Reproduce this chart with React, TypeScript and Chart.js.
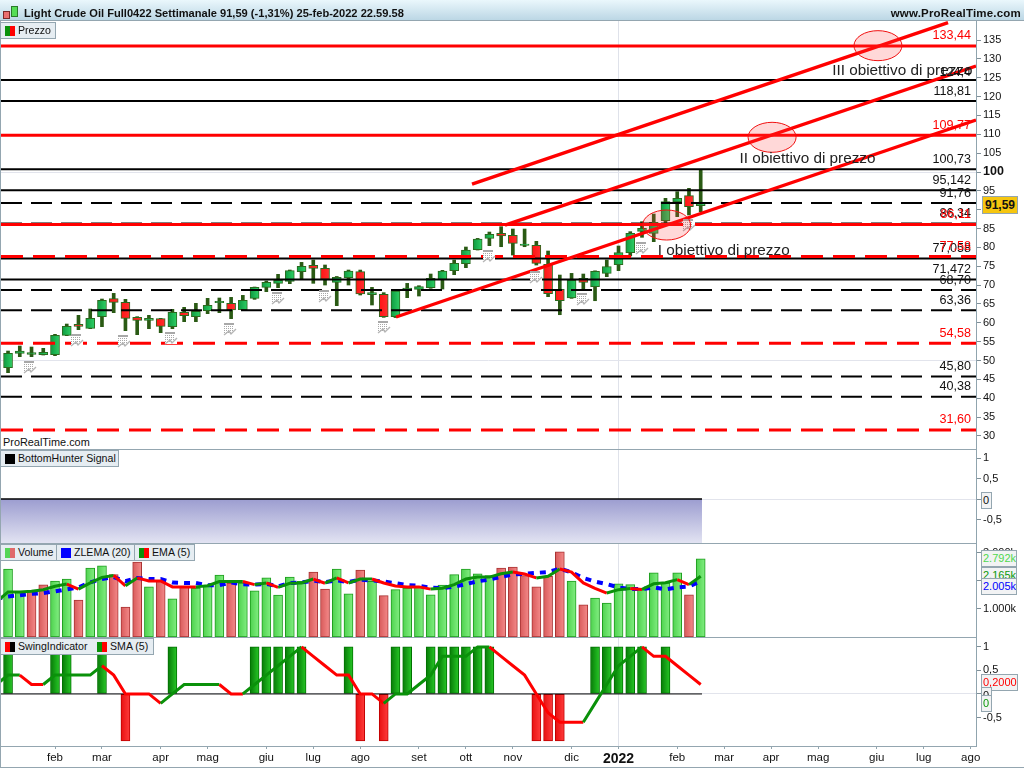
import React, { useEffect, useRef } from "react";
import { Chart, registerables } from "chart.js";

Chart.register(...registerables);

// ---------- data ----------
const WEEK_OPENS = [48.11,51.91,51.65,51.56,51.56,56.69,59.6,58.54,61.64,66.41,65.44,61.46,60.66,61.11,58.98,62.78,61.64,63.23,65.35,65.17,63.49,66.5,69.41,70.48,71.01,73.57,75.25,74.45,70.74,71.97,73.57,67.47,67.55,61.63,68.7,68.88,69.32,71.53,73.83,75.69,79.4,82.4,83.73,83.2,80.55,80.55,75.51,68.88,66.58,71.8,69.59,73.13,75.43,78.61,84.27,83.74,87.1,92.05,93.72,91.07];
const WEEK_CLOSES = [51.91,52.53,52.09,52.18,56.69,59.07,59.07,61.19,65.97,65.44,61.19,60.66,61.19,59.07,62.78,61.9,63.05,64.64,65.7,63.4,65.97,69.41,70.74,71.27,73.83,74.98,74.45,71.54,72.07,73.74,67.64,68,61.63,68.44,69.23,69.59,71.8,73.74,75.78,79.31,82.23,83.47,83.02,81.08,80.9,75.78,67.73,65.87,71.27,70.74,73.65,74.9,78.61,83.74,85.06,86.65,92.13,93.02,90.81,91.59];
const WEEK_HIGHS = [52.53,53.86,53.59,53.24,56.95,59.69,61.99,63.67,66.32,67.82,66.23,61.64,61.99,61.19,63.58,64.11,65.17,66.5,66.59,66.76,67.29,69.5,71.09,72.86,74.01,76.04,76.66,75.34,72.3,74.01,74,69.41,68,68.7,70.47,69.85,72.95,73.92,76.66,80.11,82.4,84.08,85.5,84.88,84.88,81.61,79.05,72.68,73.12,72.95,73.8,76.66,80.38,84.18,86.83,88.86,93.02,94.79,95.67,100.71];
const WEEK_LOWS = [46.79,51.03,51.03,51.47,51.29,56.6,58.19,58.45,58.98,62.7,57.92,56.86,58.45,57.39,58.45,60.31,60.31,62.43,62.7,61.11,63.23,66.23,68.27,69.33,70.39,71.54,70.48,70.03,64.55,70.03,67.38,64.73,61.46,61.4,66.67,67.11,69.15,68.97,72.77,74.63,79.31,80.46,80.19,77.98,80.19,75.33,66.94,62.16,66.49,68.7,65.87,72.24,73.84,77.73,82.68,81.53,86.39,88.16,88.6,89.48];

const VOLUMES = [2.43,1.63,1.67,1.86,2.0,2.07,1.32,2.46,2.54,2.23,1.07,2.68,1.79,1.99,1.36,1.81,1.75,1.81,2.21,1.93,1.93,1.65,2.11,1.5,2.14,1.99,2.32,1.71,2.43,1.54,2.39,1.99,1.48,1.69,1.75,1.81,1.51,1.85,2.23,2.43,2.26,2.19,2.46,2.5,2.19,1.79,2.17,3.04,2.0,1.15,1.39,1.21,1.9,1.87,1.69,2.29,1.93,2.29,1.51,2.79];
const VOLUME_DOWN_WEEKS = [2,3,6,9,10,11,13,15,19,26,27,30,32,42,43,44,45,46,47,49,58];
// the two line series begin one week before the first bar
const EMA_VOLUME = [1.25,1.61,1.61,1.63,1.69,1.81,1.89,1.71,1.93,2.13,2.20,1.83,2.11,2.00,2.00,1.79,1.79,1.79,1.83,1.98,1.98,1.98,1.87,1.93,1.77,1.92,1.93,2.07,1.92,2.11,1.93,2.07,2.07,1.93,1.82,1.79,1.79,1.71,1.74,1.87,2.07,2.14,2.14,2.26,2.32,2.25,2.11,2.17,2.43,2.32,1.93,1.74,1.57,1.69,1.73,1.70,1.90,1.94,2.05,1.87,2.17];
const ZLEMA_VOLUME = [1.36,1.45,1.49,1.54,1.57,1.63,1.70,1.77,1.95,2.07,2.14,1.99,2.11,2.07,2.07,1.95,1.93,1.93,1.85,1.85,1.95,1.88,1.87,1.90,1.81,1.93,1.95,2.01,1.96,2.02,1.96,2.05,2.02,1.98,1.92,1.85,1.83,1.76,1.75,1.80,1.89,1.99,2.05,2.15,2.23,2.26,2.29,2.32,2.44,2.31,2.11,1.98,1.89,1.77,1.71,1.71,1.77,1.70,1.77,1.80,2.0];

const SWING_SIGNAL = [1,0,0,0,1,1,0,0,1,0,-1,0,0,0,1,0,0,0,0,0,0,1,1,1,1,1,0,0,0,1,-1,0,-1,1,1,0,1,1,1,1,1,1,0,0,0,-1,-1,-1,0,0,1,1,1,1,1,0,1,0,0,0];
const SWING_SMA = [0.2,0.4,0.4,0.2,0.2,0.4,0.4,0.4,0.4,0.6,0.4,0,0,0,-0.2,0,0.2,0.2,0.2,0.2,0,0,0.2,0.4,0.6,0.8,1,0.8,0.6,0.4,0.4,0,0,-0.2,0,0,0.2,0.4,0.8,0.8,0.8,1,1,0.8,0.6,0.4,0,-0.4,-0.6,-0.6,-0.6,-0.2,0.2,0.6,0.8,1,0.8,0.8,0.6,0.4,0.2];

const SOLID_BLACK_LEVELS = [124.4, 118.81, 100.73, 95.142, 77.05, 71.472];
const DASHED_BLACK_LEVELS = [91.76, 86.34, 68.7, 63.36, 45.8, 40.38];
const SOLID_RED_LEVELS = [133.44, 109.77, 86.11];
const DASHED_RED_LEVELS = [77.58, 54.58, 31.6];
const LEVEL_TEXTS: [number, string, string][] = [
  [133.44, "133,44", "#ff0000"], [123.7, "124,4", "#111"], [118.81, "118,81", "#111"], [109.77, "109,77", "#ff0000"],
  [100.73, "100,73", "#111"], [95.142, "95,142", "#111"], [91.76, "91,76", "#111"], [86.34, "86,34", "#111"],
  [86.11, "86,11", "#ff0000"], [77.05, "77,058", "#111"], [77.58, "77,58", "#ff0000"], [71.472, "71,472", "#111"],
  [68.7, "68,70", "#111"], [63.36, "63,36", "#111"], [54.58, "54,58", "#ff0000"], [45.8, "45,80", "#111"],
  [40.38, "40,38", "#111"], [31.6, "31,60", "#ff0000"],
];
const TREND_LOWER = [{ x: 33.05, y: 61.55 }, { x: 82.45, y: 113.79 }];
const TREND_MIDDLE = [{ x: 42.33, y: 85.94 }, { x: 82.45, y: 128.1 }];
const TREND_UPPER = [{ x: 39.52, y: 96.8 }, { x: 80.07, y: 139.6 }];
const TARGET_ZONES = [{ x: 74.1, y: 133.5 }, { x: 65.08, y: 109.2 }, { x: 56.1, y: 85.94 }];
const TARGET_NOTES: [number, number, string][] = [
  [70.2, 126.8, "III obiettivo di prezzo"], [62.3, 103.4, "II obiettivo di prezzo"], [55.35, 79.05, "I obiettivo di prezzo"],
];
const CALENDAR_MARKS = [[1.9,48.3],[5.9,55.4],[9.9,55.2],[13.9,56],[18.9,58.4],[23,66.6],[27,67.1],[32,58.9],[41,77.7],[45,72.2],[49,66.3],[54,79.8],[58,85.9]];

const PRICE_TICKS = [30,35,40,45,50,55,60,65,70,75,80,85,90,95,100,105,110,115,120,125,130,135];
const OSC_TICKS = [1, 0.5, 0, -0.5];
const VOLUME_TICKS = [1, 2, 3];
const MONTH_WEEKS = [4,8,13,17,22,26,30,35,39,43,48,52,57,61,65,69,74,78,82];
const MONTH_LABELS = ["feb","mar","apr","mag","giu","lug","ago","set","ott","nov","dic","2022","feb","mar","apr","mag","giu","lug","ago"];

// ---------- helpers ----------
const FONT = '"Liberation Sans", Arial, sans-serif';
const X_MIN = -0.6, X_MAX = 82.45, LAST_X = 59.11;
const YEAR_WEEK = 52;
const fixedAxisWidth = (s: any) => { s.width = 48; s.paddingTop = 0; s.paddingBottom = 0; };

function xAxis(showLabels: boolean) {
  return {
    type: "linear", min: X_MIN, max: X_MAX, display: true, offset: false,
    afterBuildTicks: (s: any) => { s.ticks = MONTH_WEEKS.map((v) => ({ value: v })); },
    afterFit: (s: any) => { s.height = showLabels ? 21 : 0; s.paddingLeft = 0; s.paddingRight = 0; },
    border: { display: false },
    grid: {
      offset: false,
      color: (c: any) => (c.tick && c.tick.value === YEAR_WEEK ? "#dfe2ea" : "transparent"),
      tickColor: "#90a4ae", tickLength: showLabels ? 3 : 0, drawTicks: showLabels,
    },
    ticks: {
      display: showLabels, autoSkip: false, maxRotation: 0, minRotation: 0, padding: 2, color: "#111",
      font: (c: any) => (c.tick && c.tick.value === YEAR_WEEK ? { family: FONT, size: 14, weight: "bold" } : { family: FONT, size: 11.5 }),
      callback: (v: number) => { const i = MONTH_WEEKS.indexOf(v); return i >= 0 ? MONTH_LABELS[i] : ""; },
    },
  };
}
function yAxis(min: number, max: number, ticks: number[], fmt: (v: number) => string, gridAt: number[], boldAt?: number) {
  return {
    type: "linear", position: "right", min, max,
    afterBuildTicks: (s: any) => { s.ticks = ticks.map((v) => ({ value: v })); },
    afterFit: fixedAxisWidth,
    border: { display: true, color: "#90a4ae", width: 1 },
    grid: {
      color: (c: any) => (c.tick && gridAt.includes(c.tick.value) ? "#e2e4ec" : "transparent"),
      tickColor: "#7f8f98", tickLength: 5,
    },
    ticks: {
      autoSkip: false, padding: 2, color: "#111",
      font: (c: any) => (c.tick && c.tick.value === boldAt ? { family: FONT, size: 12.5, weight: "bold" } : { family: FONT, size: 11 }),
      callback: (v: number) => fmt(v),
    },
  };
}
const comma = (v: number) => String(v).replace(".", ",");
const indexed = (arr: number[], from = 0) => arr.map((y, i) => ({ x: i + from, y }));

function hGrad(c: any, width: number, left: string, right: string, fallback: string) {
  if (!c.raw) return fallback;
  const px = c.chart.scales.x?.getPixelForValue(c.raw.x);
  if (!Number.isFinite(px)) return fallback;
  const g = c.chart.ctx.createLinearGradient(px - width / 2, 0, px + width / 2, 0);
  g.addColorStop(0, left); g.addColorStop(1, right);
  return g;
}
function trendColours(values: number[]) {
  const out: string[] = [];
  let state = "#0a910a";
  for (let i = 1; i < values.length; i++) {
    if (values[i] > values[i - 1]) state = "#0a910a";
    else if (values[i] < values[i - 1]) state = "#ff0000";
    out.push(state);
  }
  return out;
}
function trendLine(values: number[], order: number) {
  const colours = trendColours(values);
  return {
    type: "line", data: indexed(values, -1), pointRadius: 0, borderWidth: 3, tension: 0, order,
    borderColor: "#0a910a", segment: { borderColor: (c: any) => colours[c.p0DataIndex] },
  };
}
function baseOptions(scales: any) {
  return {
    responsive: false, animation: false, maintainAspectRatio: false,
    layout: { padding: { left: 1, right: 0, top: 0, bottom: 0 } },
    plugins: { legend: { display: false }, tooltip: { enabled: false }, title: { display: false } },
    events: [], scales,
  };
}
const ZERO_LINE = [{ x: X_MIN, y: 0 }, { x: LAST_X, y: 0 }];

const priceMarks = {
  id: "priceMarks",
  afterDatasetsDraw(chart: any) {
    const { ctx, scales: { x, y } } = chart;
    ctx.save();
    // calendar marks
    CALENDAR_MARKS.forEach(([wx, wy]) => {
      const px = Math.round(x.getPixelForValue(wx)) - 6, py = Math.round(y.getPixelForValue(wy)) - 6;
      ctx.fillStyle = "#fff"; ctx.fillRect(px, py, 12, 12);
      ctx.fillStyle = "#a8a8a8";
      ctx.fillRect(px, py, 10, 2);
      for (let a = 0; a < 10; a += 2) for (let b = 3; b < 10; b += 2) ctx.fillRect(px + a, py + b, 1, 1);
      ctx.strokeStyle = "#b5b5b5"; ctx.lineWidth = 1.4;
      ctx.beginPath(); ctx.moveTo(px, py + 12); ctx.lineTo(px + 5, py + 8); ctx.lineTo(px + 7, py + 11); ctx.lineTo(px + 12, py + 6); ctx.stroke();
    });
    // target zones
    TARGET_ZONES.forEach((z) => {
      ctx.beginPath();
      ctx.ellipse(x.getPixelForValue(z.x), y.getPixelForValue(z.y), 24, 15, 0, 0, Math.PI * 2);
      ctx.fillStyle = "rgba(255,60,60,0.2)"; ctx.fill();
      ctx.strokeStyle = "#f01010"; ctx.lineWidth = 1; ctx.stroke();
    });
    ctx.textBaseline = "middle";
    ctx.textAlign = "left"; ctx.fillStyle = "#222"; ctx.font = `15.3px ${FONT}`;
    TARGET_NOTES.forEach(([wx, wy, t]) => ctx.fillText(t, x.getPixelForValue(wx), y.getPixelForValue(wy)));
    ctx.textAlign = "right"; ctx.font = `12.6px ${FONT}`;
    LEVEL_TEXTS.forEach(([v, t, c]) => { ctx.fillStyle = c; ctx.fillText(t, 971, y.getPixelForValue(v) - 10); });
    ctx.restore();
  },
};

function useCharts(make: (els: HTMLCanvasElement[]) => Chart[]) {
  const refs = useRef<(HTMLCanvasElement | null)[]>([]);
  useEffect(() => {
    document.body.style.margin = "0";
    document.body.style.overflow = "hidden";
    const charts = make(refs.current as HTMLCanvasElement[]);
    return () => charts.forEach((c) => c.destroy());
  }, []);
  return refs;
}

function buildCharts(els: HTMLCanvasElement[]) {
  const levelSet = (vals: number[], color: string, width: number, dash: number[], order: number) =>
    vals.map((v) => ({
      type: "line", data: [{ x: X_MIN, y: v }, { x: X_MAX, y: v }], borderColor: color, borderWidth: width,
      borderDash: dash, pointRadius: 0, order,
    }));
  const trend = (d: any) => ({ type: "line", data: d, borderColor: "#ff0000", borderWidth: 3.4, pointRadius: 0, order: 1 });

  const price = new Chart(els[0], {
    type: "bar",
    data: {
      datasets: [
        {
          type: "bar", grouped: false, order: 100, barThickness: 3, backgroundColor: "#2a5a14", borderWidth: 0,
          data: WEEK_HIGHS.map((h, i) => ({ x: i, y: [WEEK_LOWS[i], h] })),
        },
        {
          type: "bar", grouped: false, order: 99, barThickness: 9, borderWidth: 1, borderColor: "#2a6a1e", borderSkipped: false,
          data: WEEK_OPENS.map((o, i) => ({ x: i, y: [o, WEEK_CLOSES[i]] })),
          backgroundColor: (c: any) => (c.raw && WEEK_CLOSES[c.dataIndex] < WEEK_OPENS[c.dataIndex]
            ? hGrad(c, 9, "#ff1414", "#ff3030", "#ff2020")
            : hGrad(c, 9, "#0e9a40", "#2fd066", "#18b04c")),
        },
        ...levelSet(SOLID_BLACK_LEVELS, "#000", 2, [], 5),
        ...levelSet(DASHED_BLACK_LEVELS, "#000", 2, [21, 9], 5),
        ...levelSet(SOLID_RED_LEVELS, "#ff0000", 3, [], 4),
        ...levelSet(DASHED_RED_LEVELS, "#ff0000", 3, [22, 10], 4),
        trend(TREND_LOWER), trend(TREND_MIDDLE), trend(TREND_UPPER),
      ] as any,
    },
    options: baseOptions({
      x: xAxis(false),
      y: yAxis(26.55, 140.04, PRICE_TICKS, (v) => String(v), [50, 100], 100),
    }) as any,
    plugins: [priceMarks],
  });

  const hunter = new Chart(els[1], {
    type: "line",
    data: {
      datasets: [{
        data: ZERO_LINE, borderColor: "#000", borderWidth: 1.5, pointRadius: 0, fill: "start",
        backgroundColor: (c: any) => {
          const { chart } = c;
          const top = chart.scales.y?.getPixelForValue(0);
          if (!chart.chartArea || !Number.isFinite(top)) return "#b0b0d8";
          const g = chart.ctx.createLinearGradient(0, top, 0, chart.chartArea.bottom);
          g.addColorStop(0, "#9c9dd0"); g.addColorStop(1, "#e2e3f2");
          return g;
        },
      }] as any,
    },
    options: baseOptions({
      x: xAxis(false),
      y: yAxis(-1.07, 1.22, OSC_TICKS, comma, [0]),
    }) as any,
  });

  const volume = new Chart(els[2], {
    type: "bar",
    data: {
      datasets: [
        {
          type: "bar", order: 10, barThickness: 9, borderWidth: 1, borderSkipped: false,
          data: indexed(VOLUMES),
          borderColor: (c: any) => (VOLUME_DOWN_WEEKS.includes(c.dataIndex) ? "#a83232" : "#1d9c1d"),
          backgroundColor: (c: any) => (VOLUME_DOWN_WEEKS.includes(c.dataIndex)
            ? hGrad(c, 9, "#d85a5a", "#f48a8a", "#e87070")
            : hGrad(c, 9, "#4ed24e", "#82ee82", "#60e060")),
        },
        {
          type: "line", order: 2, data: indexed(ZLEMA_VOLUME, -1), borderColor: "#0000ff", borderWidth: 4,
          borderDash: [6, 6], pointRadius: 0,
        },
        trendLine(EMA_VOLUME, 1),
      ] as any,
    },
    options: baseOptions({
      x: xAxis(false),
      y: yAxis(0, 3.357, VOLUME_TICKS, (v) => `${v}.000k`, []),
    }) as any,
  });

  const swing = new Chart(els[3], {
    type: "bar",
    data: {
      datasets: [
        {
          type: "bar", order: 10, barThickness: 9, borderWidth: 1, borderSkipped: false,
          data: SWING_SIGNAL.map((v, i) => ({ x: i, y: v })).filter((p) => p.y !== 0),
          borderColor: (c: any) => (c.raw && c.raw.y < 0 ? "#c00000" : "#007000"),
          backgroundColor: (c: any) => (c.raw && c.raw.y < 0
            ? hGrad(c, 9, "#e81010", "#ff3c3c", "#ff2020")
            : hGrad(c, 9, "#077a07", "#27c827", "#10a010")),
        },
        { type: "line", order: 2, data: ZERO_LINE, borderColor: "#000", borderWidth: 1, pointRadius: 0 },
        trendLine(SWING_SMA, 1),
      ] as any,
    },
    options: baseOptions({
      x: xAxis(true),
      y: yAxis(-1.106, 1.21, OSC_TICKS, comma, [0]),
    }) as any,
  });
  return [price, hunter, volume, swing];
}

// ---------- page pieces ----------
const abs = (s: React.CSSProperties): React.CSSProperties => ({ position: "absolute", ...s });
const tagStyle: React.CSSProperties = {
  position: "absolute", height: 15, background: "#e6edf2", border: "1px solid #94a6b0", borderLeft: "none",
  font: `10.6px/15px ${FONT}`, color: "#111", whiteSpace: "nowrap", boxSizing: "content-box",
};
function Tag({ x, y, w, colours, text }: { x: number; y: number; w: number; colours: string[]; text: string }) {
  return (
    <div style={{ ...tagStyle, left: x, top: y, width: w }}>
      <span style={abs({ left: 4, top: 3, width: 10, height: 10, display: "flex" })}>
        {colours.map((c, i) => <span key={i} style={{ flex: 1, background: c }} />)}
      </span>
      <span style={abs({ left: 17, top: 0 })}>{text}</span>
    </div>
  );
}
function ValueBox({ y, x = 981, w, h = 15, text, colour }: { y: number; x?: number; w: number; h?: number; text: string; colour: string }) {
  return (
    <div style={abs({
      left: x, top: y, width: w, height: h, background: "#f2f3f4", border: "1px solid #94a6b0",
      color: colour, font: `11px/${h}px ${FONT}`, textAlign: "left", paddingLeft: 1, whiteSpace: "nowrap", overflow: "hidden",
    })}>{text}</div>
  );
}
const Rule = ({ y, w = 976 }: { y: number; w?: number }) => <div style={abs({ left: 0, top: y, width: w, height: 1, background: "#94a6b0" })} />;

export default function App() {
  const refs = useCharts(buildCharts);
  const canvas = (i: number, top: number, h: number) => (
    <canvas key={i} ref={(el) => { refs.current[i] = el; }} width={1024} height={h}
      style={abs({ left: 0, top, width: 1024, height: h, display: "block" })} />
  );
  return (
    <div style={abs({ left: 0, top: 0, width: 1024, height: 768, background: "#fff", overflow: "hidden" })}>
      {canvas(0, 21, 428)}
      {canvas(1, 449, 94)}
      {canvas(2, 543, 94)}
      {canvas(3, 637, 130)}

      <div style={abs({ left: 0, top: 0, width: 1024, height: 21, background: "linear-gradient(#eaf7fc,#bcd7e5)", borderBottom: "1px solid #94a6b0", boxSizing: "border-box" })} />
      <span style={abs({ left: 3, top: 11, width: 5, height: 6, background: "#ea7070", border: "1px solid #7a2a2a" })} />
      <span style={abs({ left: 11, top: 6, width: 5, height: 9, background: "#55dd55", border: "1px solid #2a7a2a" })} />
      <div style={abs({ left: 24, top: 0, font: `bold 11.1px/26px ${FONT}`, color: "#111", whiteSpace: "nowrap" })}>
        Light Crude Oil Full0422 Settimanale 91,59 (-1,31%) 25-feb-2022 22.59.58
      </div>
      <div style={abs({ right: 3, top: 0, font: `bold 11.5px/26px ${FONT}`, color: "#111", whiteSpace: "nowrap", letterSpacing: 0.2 })}>
        www.ProRealTime.com
      </div>

      <Rule y={449} /><Rule y={543} /><Rule y={637} /><Rule y={746} />
      <div style={abs({ left: 0, top: 767, width: 1024, height: 1, background: "#94a6b0" })} />
      <div style={abs({ left: 0, top: 21, width: 1, height: 747, background: "#94a6b0" })} />

      <Tag x={1} y={22} w={54} colours={["#0a910a", "#ff0000"]} text="Prezzo" />
      <div style={abs({ left: 3, top: 436, font: `10.9px/13px ${FONT}`, color: "#111", background: "#fff" })}>ProRealTime.com</div>
      <Tag x={1} y={450} w={117} colours={["#000"]} text="BottomHunter Signal" />
      <Tag x={1} y={544} w={55} colours={["#55d555", "#e06a6a"]} text="Volume" />
      <Tag x={57} y={544} w={77} colours={["#0000ff"]} text="ZLEMA (20)" />
      <Tag x={135} y={544} w={59} colours={["#0a910a", "#ff0000"]} text="EMA (5)" />
      <Tag x={1} y={638} w={92} colours={["#ff0000", "#000"]} text="SwingIndicator" />
      <Tag x={93} y={638} w={60} colours={["#0a910a", "#ff0000"]} text="SMA (5)" />

      <div style={abs({ left: 982, top: 196, width: 34, height: 16, background: "#f6c60f", border: "1px solid #94a6b0", font: `bold 12px/16px ${FONT}`, color: "#111", textAlign: "center" })}>91,59</div>
      <ValueBox x={981} y={492} w={8} text="0" colour="#111" />
      <ValueBox y={567} w={33} text="2.165k" colour="#0a9a0a" h={14} />
      <ValueBox y={550} w={33} text="2.792k" colour="#4fd84f" />
      <ValueBox y={578} w={33} text="2.005k" colour="#0000ff" />
      <ValueBox x={981} y={674} w={34} text="0,2000" colour="#ff0000" />
      <ValueBox x={981} y={687} w={8} text="0" colour="#111" />
      <ValueBox x={981} y={695} w={8} text="0" colour="#0a9a0a" />
    </div>
  );
}
